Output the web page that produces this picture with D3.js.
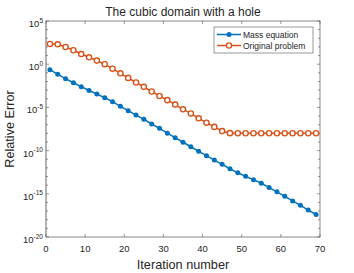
<!DOCTYPE html>
<html>
<head>
<meta charset="utf-8">
<script src="https://cdn.jsdelivr.net/npm/d3@7"></script>
<style>
body { margin: 0; background: #fff; }
svg text { font-family: "Liberation Sans", Arial, sans-serif; fill: #262626; }
</style>
</head>
<body>
<div id="chart"></div>
<script>
// iterations 1,3,...,69
var iterations = [1,3,5,7,9,11,13,15,17,19,21,23,25,27,29,31,33,35,37,39,41,43,45,47,49,51,53,55,57,59,61,63,65,67,69];

var massEquation = [2.3e-1, 6.8e-2, 2.1e-2, 7.1e-3, 2.5e-3, 9.1e-4, 3.5e-4, 1.3e-4, 4.6e-5, 1.35e-5,
  4.2e-6, 1.3e-6, 4.2e-7, 1.2e-7, 3.8e-8, 1.05e-8, 3.1e-9, 9.3e-10, 2.8e-10, 8.3e-11,
  2.6e-11, 8.1e-12, 2.6e-12, 7.9e-13, 2.7e-13, 1.05e-13, 4.2e-14, 1.7e-14, 5.2e-15, 1.7e-15,
  5.1e-16, 1.5e-16, 4.7e-17, 1.3e-17, 4.0e-18];

var originalProblem = [220, 200, 98, 41, 15, 6.3, 2.6, 1.0, 0.30, 0.089,
  0.026, 7.6e-3, 2.4e-3, 6.9e-4, 2.1e-4, 6.9e-5, 2.1e-5, 6.0e-6, 2.0e-6, 5.5e-7,
  1.7e-7, 5.5e-8, 1.8e-8, 1.05e-8, 1.02e-8, 1.02e-8, 1.02e-8, 1.02e-8, 1.02e-8, 1.02e-8,
  1.02e-8, 1.02e-8, 1.02e-8, 1.02e-8, 1.02e-8];

var xTicks = [0, 10, 20, 30, 40, 50, 60, 70];
var yExponents = [5, 0, -5, -10, -15, -20];
var seriesNames = ["Mass equation", "Original problem"];
var seriesColors = ["#0072BD", "#D95319"];

var width = 354, height = 273;
var margin = {top: 21, right: 34, bottom: 36, left: 46};
var w = width - margin.left - margin.right,
    h = height - margin.top - margin.bottom;

var svg = d3.select("#chart").append("svg")
  .attr("width", width)
  .attr("height", height);

var g = svg.append("g")
  .attr("transform", "translate(" + margin.left + "," + margin.top + ")");

var x = d3.scaleLinear().domain([0, 70]).range([0, w]);
var y = d3.scaleLog().domain([1e-20, 1e5]).range([h, 0]);

// minor decade ticks
var decades = d3.range(-20, 6).map(function(e) { return Math.pow(10, e); });

var axisColor = "#555";

// box
g.append("rect")
  .attr("width", w).attr("height", h)
  .attr("fill", "none")
  .attr("stroke", axisColor)
  .attr("stroke-width", 0.7);
// left axis looks lighter and wider in the reference
g.append("line").attr("x1", 0).attr("x2", 0).attr("y1", 0).attr("y2", h)
  .attr("stroke", "#aaa").attr("stroke-width", 1.3);

// ticks (inward, all four sides)
function yTickLen(v) {
  var e = Math.round(Math.log10(v));
  return e % 5 === 0 ? 3 : 2;
}
decades.forEach(function(v) {
  var yy = y(v), len = yTickLen(v);
  g.append("line").attr("x1", 0).attr("x2", len).attr("y1", yy).attr("y2", yy)
    .attr("stroke", axisColor).attr("stroke-width", 0.6);
  g.append("line").attr("x1", w).attr("x2", w - len).attr("y1", yy).attr("y2", yy)
    .attr("stroke", axisColor).attr("stroke-width", 0.6);
});
xTicks.forEach(function(t) {
  var xx = x(t);
  g.append("line").attr("x1", xx).attr("x2", xx).attr("y1", h).attr("y2", h - 3)
    .attr("stroke", axisColor).attr("stroke-width", 0.6);
  g.append("line").attr("x1", xx).attr("x2", xx).attr("y1", 0).attr("y2", 3)
    .attr("stroke", axisColor).attr("stroke-width", 0.6);
});

// x tick labels
g.selectAll(".xl").data(xTicks).enter().append("text")
  .attr("x", function(d) { return x(d); })
  .attr("y", h + 15)
  .attr("text-anchor", "middle")
  .style("font-size", "9.5px")
  .text(function(d) { return d; });

// y tick labels 10^e
yExponents.forEach(function(e) {
  var t = g.append("text")
    .attr("x", -3)
    .attr("y", y(Math.pow(10, e)) + 6)
    .attr("text-anchor", "end")
    .style("font-size", "9.5px");
  t.append("tspan").text("10");
  t.append("tspan").attr("dy", -4.5).style("font-size", "6.5px").text(e);
});

// axis titles
svg.append("text")
  .attr("x", margin.left + w / 2)
  .attr("y", height - 4)
  .attr("text-anchor", "middle")
  .style("font-size", "12.7px")
  .text("Iteration number");

svg.append("text")
  .attr("transform", "translate(14," + (margin.top + h / 2) + ") rotate(-90)")
  .attr("text-anchor", "middle")
  .style("font-size", "12.7px")
  .text("Relative Error");

svg.append("text")
  .attr("x", margin.left + w / 2)
  .attr("y", 16)
  .attr("text-anchor", "middle")
  .style("font-size", "12px")
  .text("The cubic domain with a hole");

// series
var line = d3.line()
  .x(function(d) { return x(d[0]); })
  .y(function(d) { return y(d[1]); });

var massData = iterations.map(function(it, i) { return [it, massEquation[i]]; });
var origData = iterations.map(function(it, i) { return [it, originalProblem[i]]; });

g.append("path").datum(massData)
  .attr("d", line).attr("fill", "none")
  .attr("stroke", seriesColors[0]).attr("stroke-width", 1.5);
g.selectAll(".mp").data(massData).enter().append("circle")
  .attr("cx", function(d) { return x(d[0]); })
  .attr("cy", function(d) { return y(d[1]); })
  .attr("r", 2.5)
  .attr("fill", seriesColors[0]);

g.append("path").datum(origData)
  .attr("d", line).attr("fill", "none")
  .attr("stroke", seriesColors[1]).attr("stroke-width", 1.5);
g.selectAll(".op").data(origData).enter().append("circle")
  .attr("cx", function(d) { return x(d[0]); })
  .attr("cy", function(d) { return y(d[1]); })
  .attr("r", 2.6)
  .attr("fill", "#fff")
  .attr("stroke", seriesColors[1])
  .attr("stroke-width", 1.4);

// legend
var lg = svg.append("g").attr("transform", "translate(214,27)");
lg.append("rect").attr("width", 99).attr("height", 26)
  .attr("fill", "#fff").attr("stroke", axisColor).attr("stroke-width", 0.6);
seriesNames.forEach(function(name, i) {
  var yy = 7.5 + i * 11;
  lg.append("line").attr("x1", 3).attr("x2", 27).attr("y1", yy).attr("y2", yy)
    .attr("stroke", seriesColors[i]).attr("stroke-width", 1.5);
  if (i === 0) {
    lg.append("circle").attr("cx", 15).attr("cy", yy).attr("r", 2.5).attr("fill", seriesColors[i]);
  } else {
    lg.append("circle").attr("cx", 15).attr("cy", yy).attr("r", 2.6).attr("fill", "#fff")
      .attr("stroke", seriesColors[i]).attr("stroke-width", 1.4);
  }
  lg.append("text").attr("x", 29).attr("y", yy + 3).style("font-size", "8.5px").text(name);
});
</script>
</body>
</html>
